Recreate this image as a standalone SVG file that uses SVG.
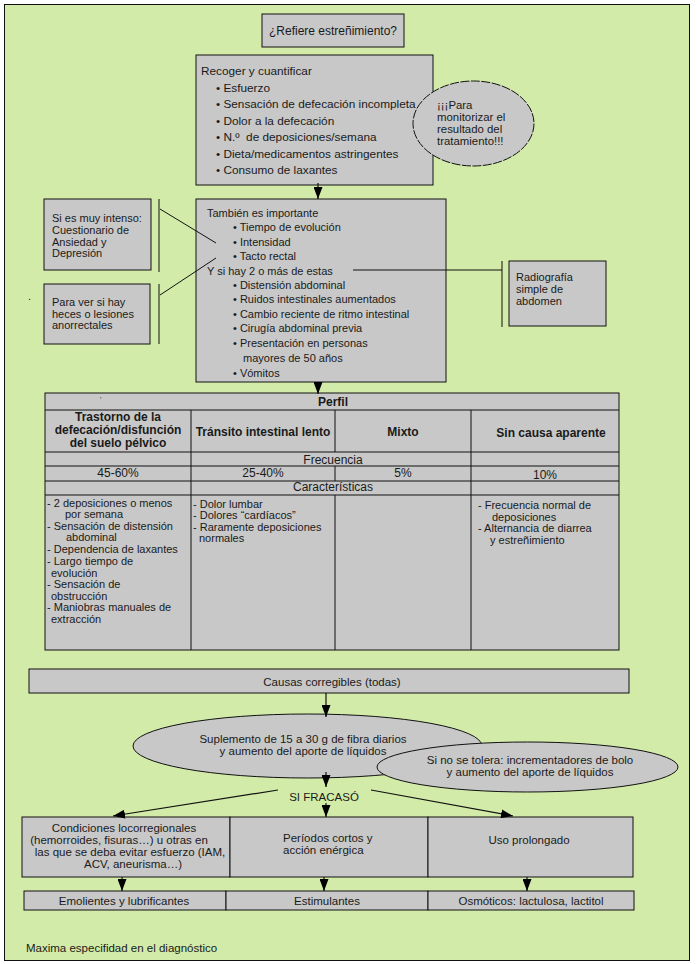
<svg xmlns="http://www.w3.org/2000/svg" width="697" height="964" viewBox="0 0 697 964">
<style>
text{font-family:"Liberation Sans",Arial,sans-serif;font-size:11.5px;fill:#1a1a1a}
.box{fill:#c8c8c8;stroke:#111;stroke-width:1}
.ln{stroke:#111;stroke-width:1;fill:none}
.c{text-anchor:middle}
.b{font-weight:bold;font-size:12px}
.s12{font-size:12px}
.r{font-size:11.8px}
.s11{font-size:11px}
.e{font-size:11.4px}
.t{font-size:11px}
.arr{stroke:#111;stroke-width:1.2;fill:none;marker-end:url(#ah)}
</style>
<defs>
<marker id="ah" markerWidth="12" markerHeight="9" refX="12" refY="4.5" orient="auto" markerUnits="userSpaceOnUse" viewBox="0 0 12 9"><path d="M0,0 L12,4.5 L0,9 Z" fill="#000"/></marker>
</defs>
<rect x="0" y="0" width="697" height="964" fill="#fff"/>
<rect x="4.5" y="4.5" width="685" height="956" fill="#d2eba8" stroke="#111" stroke-width="1"/>

<g id="refiere">
<rect class="box" x="262" y="14" width="142" height="33"/>
<text class="c s12" x="333" y="35">¿Refiere estreñimiento?</text>
</g>

<g id="recoger">
<rect class="box" x="196" y="55" width="237" height="130"/>
<text class="r" x="201" y="75">Recoger y cuantificar</text>
<text class="r" x="216" y="91.5">• Esfuerzo</text>
<text class="r" x="216" y="108">• Sensación de defecación incompleta</text>
<text class="r" x="216" y="124.5">• Dolor a la defecación</text>
<text class="r" x="216" y="141">• N.º&#160; de deposiciones/semana</text>
<text class="r" x="216" y="157.5">• Dieta/medicamentos astringentes</text>
<text class="r" x="216" y="174">• Consumo de laxantes</text>
</g>

<g id="monitorizar">
<ellipse cx="473.5" cy="123.5" rx="60.5" ry="42.5" fill="#c8c8c8" stroke="#111" stroke-width="1" stroke-dasharray="9,1.5"/>
<text class="e" x="437" y="108.5">¡¡¡Para</text>
<text class="e" x="437" y="120.5">monitorizar el</text>
<text class="e" x="437" y="132.5">resultado del</text>
<text class="e" x="437" y="144.5">tratamiento!!!</text>
</g>

<g id="tambien">
<rect class="box" x="196" y="199" width="250" height="183"/>
<text class="s11" x="207" y="217">También es importante</text>
<text class="s11" x="233" y="231">• Tiempo de evolución</text>
<text class="s11" x="233" y="246">• Intensidad</text>
<text class="s11" x="233" y="260">• Tacto rectal</text>
<text class="s11" x="207" y="275">Y si hay 2 o más de estas</text>
<text class="s11" x="233" y="289">• Distensión abdominal</text>
<text class="s11" x="233" y="303">• Ruidos intestinales aumentados</text>
<text class="s11" x="233" y="318">• Cambio reciente de ritmo intestinal</text>
<text class="s11" x="233" y="332">• Cirugía abdominal previa</text>
<text class="s11" x="233" y="347">• Presentación en personas</text>
<text class="s11" x="243" y="362">mayores de 50 años</text>
<text class="s11" x="233" y="377">• Vómitos</text>
</g>

<g id="ansiedad">
<rect class="box" x="44" y="199" width="107" height="71"/>
<text class="s11" x="52" y="222">Si es muy intenso:</text>
<text class="s11" x="52" y="234">Cuestionario de</text>
<text class="s11" x="52" y="245.5">Ansiedad y</text>
<text class="s11" x="52" y="257">Depresión</text>
</g>

<g id="heces">
<rect class="box" x="44" y="284" width="106" height="60"/>
<text class="s11" x="52" y="306">Para ver si hay</text>
<text class="s11" x="52" y="317.5">heces o lesiones</text>
<text class="s11" x="52" y="329">anorrectales</text>
</g>
<text class="s11" x="28" y="300">.</text>

<g id="radiografia">
<rect class="box" x="509" y="261" width="97" height="65"/>
<text class="s11" x="516" y="281">Radiografía</text>
<text class="s11" x="516" y="293">simple de</text>
<text class="s11" x="516" y="304.5">abdomen</text>
</g>

<g id="perfil-table">
<rect class="box" x="45" y="393" width="574" height="257"/>
<path class="ln" d="M45,410H619M45,452H619M45,466H619M45,481H619M45,495H619M191,410V650M471,410V650M335,410V452M335,466V481M335,495V650"/>
<text class="c b" x="333" y="406">Perfil</text>
<text x="100" y="402" style="font-size:7px">'</text>
<text class="c b" x="118" y="421">Trastorno de la</text>
<text class="c b" x="118" y="434">defecación/disfunción</text>
<text class="c b" x="118" y="447">del suelo pélvico</text>
<text class="c b" x="263" y="436">Tránsito intestinal lento</text>
<text class="c b" x="403" y="436">Mixto</text>
<text class="c b" x="551" y="437">Sin causa aparente</text>
<text class="c s12" x="333" y="464">Frecuencia</text>
<text class="c s12" x="118" y="477">45-60%</text>
<text class="c s12" x="263" y="477">25-40%</text>
<text class="c s12" x="403" y="477">5%</text>
<text class="c s12" x="545" y="479">10%</text>
<text class="c s12" x="333" y="491">Características</text>
<text class="t" x="47" y="507">- 2 deposiciones o menos</text>
<text class="t" x="65" y="518">por semana</text>
<text class="t" x="47" y="530">- Sensación de distensión</text>
<text class="t" x="66" y="541">abdominal</text>
<text class="t" x="47" y="553">- Dependencia de laxantes</text>
<text class="t" x="47" y="565">- Largo tiempo de</text>
<text class="t" x="51" y="576.5">evolución</text>
<text class="t" x="47" y="588">- Sensación de</text>
<text class="t" x="51" y="599.5">obstrucción</text>
<text class="t" x="47" y="611">- Maniobras manuales de</text>
<text class="t" x="51" y="622.5">extracción</text>
<text class="t" x="193" y="508">- Dolor lumbar</text>
<text class="t" x="193" y="519">- Dolores “cardíacos”</text>
<text class="t" x="193" y="530.5">- Raramente deposiciones</text>
<text class="t" x="199" y="541.5">normales</text>
<text class="t" x="478" y="509">- Frecuencia normal de</text>
<text class="t" x="492" y="520.5">deposiciones</text>
<text class="t" x="478" y="532">- Alternancia de diarrea</text>
<text class="t" x="490" y="543.5">y estreñimiento</text>
</g>

<g id="causas">
<rect class="box" x="29" y="669" width="600" height="24"/>
<text class="c" x="332" y="686">Causas corregibles (todas)</text>
</g>

<g id="fibra">
<ellipse cx="307.5" cy="746" rx="174.5" ry="32" fill="#c8c8c8" stroke="#111" stroke-width="1"/>
<text class="c" x="303" y="743">Suplemento de 15 a 30 g de fibra diarios</text>
<text class="c" x="303" y="755">y aumento del aporte de líquidos</text>
</g>

<g id="bolo">
<ellipse cx="527.5" cy="767" rx="150.5" ry="25" fill="#c8c8c8" stroke="#111" stroke-width="1"/>
<text class="c" x="530" y="764">Si no se tolera: incrementadores de bolo</text>
<text class="c" x="530" y="776">y aumento del aporte de líquidos</text>
</g>

<g id="fracaso">
<text class="c" x="324" y="801">SI FRACASÓ</text>
</g>

<g id="locorregionales">
<rect class="box" x="22" y="817" width="208" height="60"/>
<text class="c" x="124" y="832">Condiciones locorregionales</text>
<text class="c" x="119" y="844">(hemorroides, fisuras…) u otras en</text>
<text class="c" x="130" y="856">las que se deba evitar esfuerzo (IAM,</text>
<text class="c" x="133" y="868">ACV, aneurisma…)</text>
</g>
<g id="periodos">
<rect class="box" x="230" y="817" width="198" height="60"/>
<text x="283" y="842">Períodos cortos y</text>
<text x="283" y="854">acción enérgica</text>
</g>
<g id="prolongado">
<rect class="box" x="428" y="817" width="205" height="60"/>
<text class="c" x="529" y="844">Uso prolongado</text>
</g>

<g id="emolientes">
<rect class="box" x="24" y="891" width="202" height="19"/>
<text class="c" x="124" y="905">Emolientes y lubrificantes</text>
</g>
<g id="estimulantes">
<rect class="box" x="226" y="891" width="202" height="19"/>
<text class="c" x="327" y="905">Estimulantes</text>
</g>
<g id="osmoticos">
<rect class="box" x="428" y="891" width="206" height="19"/>
<text class="c" x="531" y="905">Osmóticos: lactulosa, lactitol</text>
</g>

<g id="nota">
<text x="26" y="952">Maxima especifidad en el diagnóstico</text>
</g>

<g id="connectors">
<line class="arr" x1="318" y1="183" x2="318" y2="199"/>
<line class="arr" x1="318" y1="382" x2="318" y2="394"/>
<line class="ln" x1="159" y1="199" x2="159" y2="272"/>
<line class="ln" x1="159" y1="284" x2="159" y2="344"/>
<line class="ln" x1="160" y1="209" x2="216" y2="243"/>
<line class="ln" x1="160" y1="295" x2="216" y2="258"/>
<line class="ln" x1="353" y1="270" x2="502" y2="270"/>
<line class="ln" x1="502" y1="261" x2="502" y2="327"/>
<line class="arr" x1="326" y1="693" x2="326" y2="717"/>
<line class="arr" x1="326" y1="772" x2="326" y2="787"/>
<line class="arr" x1="326" y1="803" x2="326" y2="817"/>
<line class="arr" x1="278" y1="790" x2="113" y2="816"/>
<line class="arr" x1="371" y1="790" x2="513" y2="816"/>
<line class="arr" x1="122" y1="877" x2="122" y2="891"/>
<line class="arr" x1="324" y1="877" x2="324" y2="891"/>
<line class="arr" x1="527" y1="877" x2="527" y2="891"/>
</g>
</svg>
